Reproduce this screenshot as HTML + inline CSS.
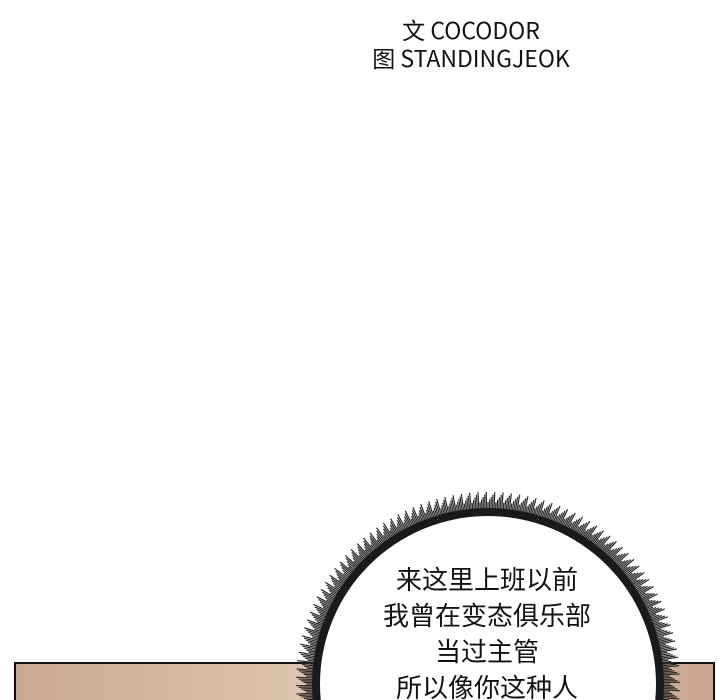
<!DOCTYPE html>
<html><head><meta charset="utf-8"><style>
html,body{margin:0;padding:0;background:#fff;width:720px;height:700px;overflow:hidden;position:relative;font-family:"Noto Sans CJK SC","Liberation Sans",sans-serif}
.cr{position:absolute;left:0;width:942px;text-align:center;font-size:23px;color:#111;line-height:28px}
.t{position:absolute;left:320px;width:334px;height:139px;overflow:hidden;text-align:center;font-size:26px;color:#111;line-height:36px}
</style></head><body>
<div class="cr" style="top:15px">文 COCODOR</div>
<div class="cr" style="top:43px">图 STANDINGJEOK</div>
<div style="position:absolute;left:14px;top:662px;width:697px;height:36px;border:2px solid #111;border-bottom:none;background:linear-gradient(90deg,#c9a994,#dcc3ae 40%,#d8bda8 80%,#caa58f)"></div>
<svg width="720" height="700" style="position:absolute;left:0;top:0">
<g id="sp"></g>
<circle cx="488" cy="684" r="176" fill="#1a1a1a"/>
<circle cx="488" cy="684" r="168" fill="#fff"/>
</svg>
<div class="t" style="top:561px">来这里上班以前<br>我曾在变态俱乐部<br>当过主管<br>所以像你这种人</div>
<script>
var g=document.getElementById('sp'),s='';
for(var i=0;i<720;i++){var a=i*Math.PI/360,r=182+(i%5)*2.5;s+='<line x1="'+(488+170*Math.cos(a))+'" y1="'+(684+170*Math.sin(a))+'" x2="'+(488+r*Math.cos(a))+'" y2="'+(684+r*Math.sin(a))+'" stroke="#2a2a2a" stroke-width="1.2"/>';}
g.innerHTML=s;
</script>
</body></html>
